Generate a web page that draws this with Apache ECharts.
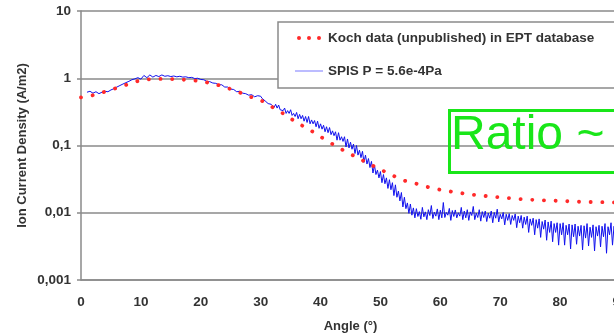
<!DOCTYPE html>
<html>
<head>
<meta charset="utf-8">
<script src="https://cdn.jsdelivr.net/npm/echarts@6/dist/echarts.min.js"></script>
<style>
html,body{margin:0;padding:0;background:#fff;overflow:hidden;width:614px;height:333px;}
#chart{width:640px;height:333px;}
</style>
</head>
<body>
<div id="chart"></div>
<script>
// Koch data (unpublished) in EPT database
var kochAngles = [0,2,4,6,8,10,12,14,16,18,20,22,24,26,28,30,32,34,36,38,40,42,44,46,48,50,52,54,56,58,60,62,64,66,68,70,72,74,76,78,80,82,84,86,88,90];
var kochValues = [0.52,0.56,0.63,0.72,0.82,0.93,0.97,0.98,0.96,0.94,0.90,0.83,0.74,0.64,0.54,0.47,0.37,0.29,0.22,0.175,0.135,0.105,0.083,0.067,0.054,0.044,0.036,0.030,0.027,0.024,0.022,0.0205,0.0193,0.0183,0.0176,0.0169,0.0163,0.0158,0.0155,0.0152,0.0150,0.0147,0.0145,0.0144,0.0143,0.0142];

// SPIS P = 5.6e-4Pa, part 1: from 1 deg, every 0.5 deg
var spisStartA = 1;
var spisStepA = 0.5;
var spisValuesA = [
0.62,0.64,0.60,0.63,0.59,0.62,0.64,0.63,0.67,0.70,0.74,0.78,0.82,0.86,0.90,0.95,0.98,1.02,
0.97,1.10,1.02,1.12,1.04,1.10,1.06,1.12,1.07,1.09,1.06,1.08,1.05,1.07,1.04,1.05,1.02,1.03,0.99,1.00,
0.96,0.95,0.90,0.89,0.85,0.84,0.80,0.80,0.74,0.74,0.69,0.68,0.63,0.64,0.60,0.59,0.56,0.57,0.53,0.55
];
// SPIS P = 5.6e-4Pa, part 2: from 30 deg, every 0.25 deg
var spisStartB = 30;
var spisStepB = 0.25;
var spisValuesB = [
0.54,0.50,0.51,0.46,0.49,0.42,0.44,0.41,0.43,0.37,0.41,0.36,0.40,0.34,0.36,0.33,0.36,0.30,0.33,0.30,
0.34,0.28,0.30,0.27,0.31,0.25,0.29,0.25,0.28,0.23,0.27,0.22,0.27,0.21,0.24,0.21,0.235,0.19,0.23,0.18,
0.21,0.175,0.20,0.16,0.19,0.155,0.185,0.145,0.165,0.14,0.16,0.12,0.155,0.12,0.135,0.115,0.135,0.095,0.125,0.092,
0.112,0.088,0.105,0.076,0.10,0.072,0.085,0.066,0.082,0.056,0.072,0.053,0.064,0.047,0.058,0.039,0.051,0.037,0.043,0.033,
0.041,0.028,0.037,0.027,0.033,0.023,0.031,0.022,0.028,0.018,0.026,0.017,0.021,0.015,0.020,0.0122,0.017,0.0115,0.014,0.0098,
0.0135,0.0092,0.0118,0.0084,0.0115,0.0088,0.0104,0.0080,0.0120,0.0087,0.0103,0.0079,0.0111,0.0091,0.0128,0.0082,0.0102,0.0089,0.0114,0.0079,
0.0109,0.0084,0.0142,0.0085,0.0101,0.0092,0.0116,0.0077,0.0108,0.0088,0.0110,0.0084,0.0100,0.0089,0.0120,0.0079,0.0106,0.0084,0.0111,0.0077,
0.0103,0.0091,0.0124,0.0079,0.0099,0.0085,0.0111,0.0075,0.0104,0.0085,0.0106,0.0074,0.0099,0.0083,0.0106,0.0071,0.0101,0.0083,0.0113,0.0073,
0.0095,0.0081,0.0101,0.0066,0.0095,0.0077,0.0097,0.0067,0.0091,0.0077,0.0096,0.0060,0.0089,0.0071,0.0091,0.0059,0.0086,0.0067,0.0089,0.0051,
0.0081,0.0065,0.0083,0.0047,0.0079,0.0059,0.0081,0.0043,0.0074,0.0057,0.0078,0.0039,0.0073,0.0051,0.0075,0.0037,0.0069,0.0051,0.0071,0.0033,
0.0069,0.0047,0.0071,0.0033,0.0065,0.0047,0.0068,0.0029,0.0066,0.0044,0.0068,0.0034,0.0063,0.0045,0.0065,0.0028,0.0064,0.0042,0.0069,0.0032,
0.0061,0.0043,0.0066,0.0027,0.0062,0.0045,0.0065,0.0031,0.0063,0.0044,0.0069,0.0025,0.0062,0.0047,0.0071,0.0033,0.0063,0.0046,0.0068,0.0036,
0.0060
];

var xTicks = [0,10,20,30,40,50,60,70,80,90];
var yTickLabels = {'10':'10','1':'1','0.1':'0,1','0.01':'0,01','0.001':'0,001'};
var kochName = 'Koch data (unpublished) in EPT database';
var spisName = 'SPIS P = 5.6e-4Pa';
var annotationText = 'Ratio ~';

var kochData = kochAngles.map(function(a, i){ return [a, kochValues[i]]; });
var spisData = spisValuesA.map(function(v, i){ return [spisStartA + i * spisStepA, v]; })
  .concat(spisValuesB.map(function(v, i){ return [spisStartB + i * spisStepB, v]; }));

var chart = echarts.init(document.getElementById('chart'), null, {renderer:'canvas'});
var fontFam = '"Liberation Sans", Arial, sans-serif';
chart.setOption({
  animation: false,
  backgroundColor: '#fff',
  grid: {left: 81, right: 20, top: 11, bottom: 53, containLabel: false, outerBoundsMode: 'none'},
  xAxis: {
    type: 'value', min: 0, max: 90, interval: 10,
    name: 'Angle (°)', nameLocation: 'middle', nameGap: 40,
    nameTextStyle: {fontFamily: fontFam, fontWeight: 'bold', fontSize: 13, color: '#333'},
    axisLine: {show: true, lineStyle: {color: '#8a8a8a', width: 1.5}},
    axisTick: {show: false},
    splitLine: {show: false},
    axisLabel: {margin: 15, fontFamily: fontFam, fontWeight: 'bold', fontSize: 13.5, color: '#333',
      formatter: function(v){ return xTicks.indexOf(v) >= 0 ? String(v) : ''; }}
  },
  yAxis: {
    type: 'log', logBase: 10, min: 0.001, max: 10,
    name: 'Ion Current Density (A/m2)', nameLocation: 'middle', nameGap: 52,
    nameMoveOverlap: false,
    nameTextStyle: {fontFamily: fontFam, fontWeight: 'bold', fontSize: 13, color: '#333'},
    axisLine: {show: true, lineStyle: {color: '#8a8a8a', width: 1.5}},
    axisTick: {show: true, length: 4, lineStyle: {color: '#8a8a8a', width: 1.5}},
    splitLine: {show: true, lineStyle: {color: '#8a8a8a', width: 1.5}},
    axisLabel: {margin: 10, fontFamily: fontFam, fontWeight: 'bold', fontSize: 13.5, color: '#333',
      formatter: function(v){ var k = String(+v.toPrecision(3)); return yTickLabels[k] || k.replace('.', ','); }}
  },
  legend: {
    orient: 'vertical', left: 278, top: 22,
    padding: [9, 40, 10, 17],
    itemGap: 19, itemWidth: 28, itemHeight: 14,
    backgroundColor: '#fff', borderColor: '#8a8a8a', borderWidth: 1.5, borderRadius: 0,
    textStyle: {fontFamily: fontFam, fontWeight: 'bold', fontSize: 13.5, color: '#333'},
    data: [
      {name: kochName, icon: 'path://M0,0 L0.01,0 L0,0.01 Z M2,7 a2,2 0 1,0 4,0 a2,2 0 1,0 -4,0 M12,7 a2,2 0 1,0 4,0 a2,2 0 1,0 -4,0 M22,7 a2,2 0 1,0 4,0 a2,2 0 1,0 -4,0 M27.99,14 L28,14 L28,13.99 Z', itemStyle: {color: '#ff2a2a'}},
      {name: spisName, icon: 'path://M0,0 L0.01,0 L0,0.01 Z M0,6.5 L28,6.5 L28,7.6 L0,7.6 Z M27.99,14 L28,14 L28,13.99 Z', itemStyle: {color: '#7b7bff'}}
    ]
  },
  series: [
    {
      name: kochName, type: 'line', data: kochData, showSymbol: false, symbol: 'none',
      smooth: 0.3, z: 3,
      lineStyle: {color: '#ff2a2a', width: 3.8, type: [0.1, 11.6], cap: 'round'},
      itemStyle: {color: '#ff2a2a'}
    },
    {
      name: spisName, type: 'line', data: spisData, showSymbol: false, symbol: 'none', z: 2,
      lineStyle: {color: '#1010ee', width: 1},
      itemStyle: {color: '#7b7bff'}
    }
  ],
  graphic: [
    {type: 'rect', left: 447, top: 108, shape: {width: 180, height: 62}, z: 100,
      style: {fill: 'none', stroke: '#19e619', lineWidth: 3}},
    {type: 'text', left: 451, top: 112, z: 101,
      style: {text: annotationText, fill: '#19e619', font: '48px "Liberation Sans", Arial, sans-serif'}}
  ]
});
</script>
</body>
</html>
